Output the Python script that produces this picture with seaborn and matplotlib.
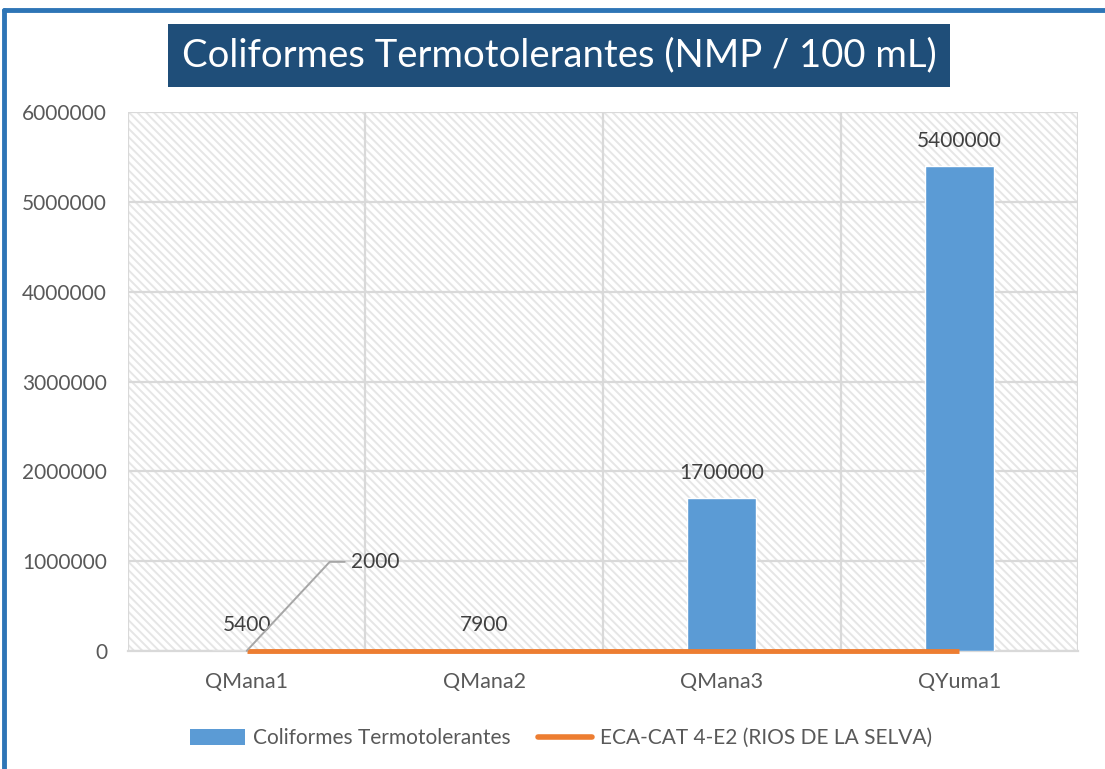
import numpy as np
import pandas as pd
import matplotlib
matplotlib.use("Agg")
import matplotlib.pyplot as plt
import seaborn as sns
from matplotlib.lines import Line2D
from matplotlib.patches import Rectangle, Patch

# Data
sites = ["QMana1", "QMana2", "QMana3", "QYuma1"]
coliformes = [5400, 7900, 1700000, 5400000]
eca_limit = [2000, 2000, 2000, 2000]
y_ticks = [0, 1000000, 2000000, 3000000, 4000000, 5000000, 6000000]

bar_color = "#5B9BD5"
line_color = "#ED7D31"
grid_color = "#D9D9D9"
text_color = "#595959"

sns.set_style("white")
plt.rcParams["font.family"] = ["Lato", "DejaVu Sans"]
plt.rcParams["hatch.linewidth"] = 1.4

df = pd.DataFrame({"Sitio": sites, "Valor": coliformes})

fig = plt.figure(figsize=(11.05, 7.69), dpi=100)
ax = fig.add_axes([0.1158, 0.1534, 0.8598, 0.7010])

# hatched plot background
bg = Rectangle((0, 0), 1, 1, transform=ax.transAxes, facecolor="white",
               edgecolor="#E6E6E6", hatch="\\\\\\\\", lw=0, zorder=0)
ax.add_patch(bg)

sns.barplot(data=df, x="Sitio", y="Valor", color=bar_color, width=0.29,
            saturation=1, ax=ax, zorder=3)
ax.plot(np.arange(len(sites)), eca_limit, color=line_color, lw=3.5,
        solid_capstyle="butt", zorder=4, clip_on=False)

ax.set_xlim(-0.5, len(sites) - 0.5)
ax.set_ylim(0, 6000000)
ax.set_yticks(y_ticks)
ax.set_yticklabels([str(v) for v in y_ticks])
ax.set_xticks(np.arange(len(sites)))
ax.set_xticklabels(sites)
ax.set_xticks(np.arange(len(sites) + 1) - 0.5, minor=True)
ax.set_xlabel("")
ax.set_ylabel("")

ax.grid(axis="y", which="major", color=grid_color, lw=1.6, zorder=1)
ax.grid(axis="x", which="minor", color=grid_color, lw=1.6, zorder=1)
ax.set_axisbelow(True)
ax.tick_params(axis="x", which="major", length=0, labelsize=15.5, colors=text_color, pad=15)
ax.tick_params(axis="x", which="minor", length=10, width=1.6, color=grid_color)
ax.tick_params(axis="y", length=0, labelsize=15, colors=text_color, pad=15)
for s in ["top", "right", "left"]:
    ax.spines[s].set_visible(False)
ax.spines["bottom"].set_color(grid_color)
ax.spines["bottom"].set_linewidth(1.6)

# data labels
for i, v in enumerate(coliformes):
    ax.annotate(str(v), (i, v), xytext=(0, 11), textcoords="offset points",
                ha="center", va="bottom", fontsize=15, color="#404040", zorder=5)

# label of the limit line, with leader line
fig.canvas.draw()
x0, y0 = ax.transData.transform((0, eca_limit[0]))
leader = Line2D([x0, x0 + 83, x0 + 98], [y0, y0 + 89, y0 + 89], transform=None,
                color="#A6A6A6", lw=1.4, zorder=5)
fig.add_artist(leader)
fig.text((x0 + 104) / fig.bbox.width, (y0 + 89) / fig.bbox.height, str(eca_limit[0]),
         ha="left", va="center", fontsize=15, color="#404040")

# title in dark box
fig.text(0.506, 0.928, "Coliformes Termotolerantes (NMP / 100 mL)", ha="center", va="center",
         fontsize=27.5, color="white",
         bbox=dict(boxstyle="square,pad=0.35", facecolor="#1F4E79", edgecolor="none"))

# legend
handles = [Patch(facecolor=bar_color, edgecolor="none"),
           Line2D([0], [0], color=line_color, lw=4)]
fig.legend(handles, ["Coliformes Termotolerantes", "ECA-CAT 4-E2 (RIOS DE LA SELVA)"],
           loc="center", bbox_to_anchor=(0.508, 0.04), ncol=2, frameon=False,
           fontsize=15, handlelength=2.6, handleheight=0.8, columnspacing=1.3,
           handletextpad=0.4, labelcolor=text_color)

# outer blue frame
fig.add_artist(Line2D([0.004, 1.0], [0.987, 0.987], color="#2E75B6", lw=3.5))
fig.add_artist(Line2D([0.004, 0.004], [0.0, 0.987], color="#2E75B6", lw=3.5))

fig.savefig("out.png", dpi=100)
